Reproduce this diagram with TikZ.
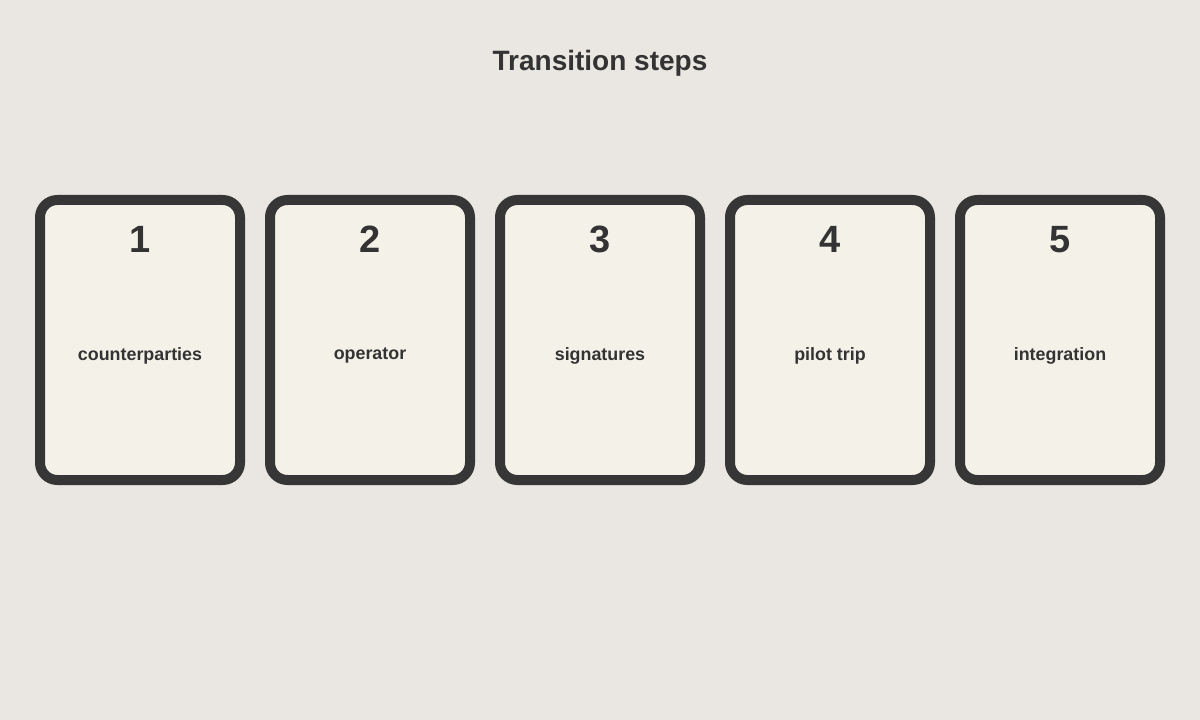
\documentclass[tikz,border=0pt]{standalone}
\usepackage{fontspec}
\setmainfont{Liberation Sans}
\definecolor{bg}{HTML}{EAE7E2}
\definecolor{cardfill}{HTML}{F4F2E8}
\definecolor{ink}{HTML}{363636}
\definecolor{txt}{HTML}{333333}
\tikzset{
  card/.style={draw=ink, line width=7.5pt, fill=cardfill, rounded corners=13pt,
    minimum width=150pt, minimum height=210pt, inner sep=0pt},
  numtext/.style={text=txt, font=\bfseries\fontsize{28.5}{32}\selectfont},
  labtext/.style={text=txt, font=\bfseries\fontsize{13.4}{16}\selectfont},
  titletext/.style={text=txt, font=\bfseries\fontsize{21}{25}\selectfont}
}
\begin{document}
\begin{tikzpicture}[x=0.75pt,y=-0.75pt]
\fill[bg] (0,0) rectangle (1200,720);
\useasboundingbox (0,0) rectangle (1200,720);
\node[titletext] (title) at (600,63) {Transition steps};
\foreach \i/\cx/\lab in {1/140/counterparties,2/370/operator,3/600/signatures,4/830/pilot trip,5/1060/integration}{
  \node[card] (card\i) at (\cx,340) {};
  \node[numtext] (num\i) at (\cx,239.5) {\i};
  \node[labtext] (lab\i) at (\cx,356) {\lab};
}
\end{tikzpicture}
\end{document}
